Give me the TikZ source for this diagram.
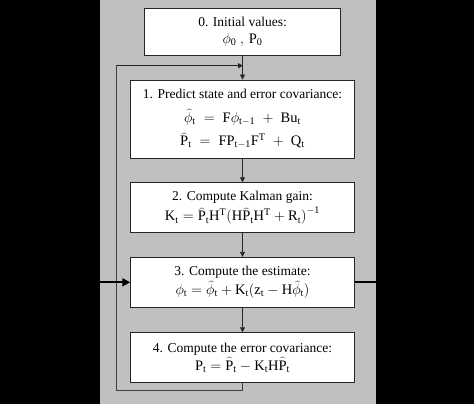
\documentclass[tikz,border=0pt]{standalone}
\usepackage{fontspec}
\setmainfont{Liberation Serif}
\usetikzlibrary{arrows.meta}
\definecolor{panel}{RGB}{192,192,192}
\newcommand\eqn[1]{{\fontsize{14.5}{17}\selectfont$\mathrm{#1}$}}
\begin{document}
\begin{tikzpicture}[x=1pt,y=-1pt,
  stepbox/.style={draw=black!85,line width=0.9pt,fill=white,minimum width=223.6pt,align=center,inner sep=0pt,
    font=\fontsize{13.5}{16}\selectfont},
  flow/.style={draw=black!85,line width=0.8pt,-{Triangle[length=5pt,width=5pt]}},
  loopline/.style={draw=black!75,line width=0.8pt},
  thick io/.style={draw=black,line width=2pt}]
\useasboundingbox (0,0) rectangle (474,404);
\fill[black] (0,0) rectangle (474,404);
\fill[panel] (100,0) rectangle (376,404);
\node[stepbox,minimum width=196.4pt,minimum height=47.4pt] (b0) at (242.5,32) {0. Initial values:\\[1pt] \eqn{\phi_0\ ,\, P_0}};
\node[stepbox,minimum height=78pt] (b1) at (242.5,119) {1. Predict state and error covariance:\\[8pt]
  \eqn{\widehat{\phi}_t \;=\; F\phi_{t-1} \;+\; Bu_t}\\[7pt]
  \eqn{\widehat{P}_t \;=\; FP_{t-1}F^T \;+\; Q_t}};
\node[stepbox,minimum height=50pt] (b2) at (242.5,207.7) {2. Compute Kalman gain:\\[3pt]
  \eqn{K_t = \widehat{P}_t H^T\bigl(H\widehat{P}_t H^T + R_t\bigr)^{-1}}};
\node[stepbox,minimum height=50pt] (b3) at (242.5,282.3) {3. Compute the estimate:\\[3pt]
  \eqn{\phi_t = \widehat{\phi}_t + K_t\bigl(z_t - H\widehat{\phi}_t\bigr)}};
\node[stepbox,minimum height=49.6pt] (b4) at (242.5,357.5) {4. Compute the error covariance:\\[2pt]
  \eqn{P_t = \widehat{P}_t - K_t H\widehat{P}_t}};
\coordinate (loopin) at (242.5,65.7);
\coordinate (lbot) at (242.5,390.7);
\coordinate (lbl) at (116.7,390.7);
\coordinate (ltl) at (116.7,65.7);
\coordinate (inL) at (100,282.3);
\coordinate (outR) at (376,282.3);
\draw[flow] (b0) -- (b1);
\draw[flow] (b1) -- (b2);
\draw[flow] (b2) -- (b3);
\draw[flow] (b3) -- (b4);
\draw[loopline] (b4.south) -- (lbot) -- (lbl) -- (ltl) -- (loopin);
\draw[flow,draw=black!85,shorten >=-0.5pt] (ltl) -- (loopin);
\draw[thick io,-{Triangle[length=8pt,width=8pt]}] (inL) -- (b3.west);
\draw[thick io] (b3.east) -- (outR);
\end{tikzpicture}
\end{document}
